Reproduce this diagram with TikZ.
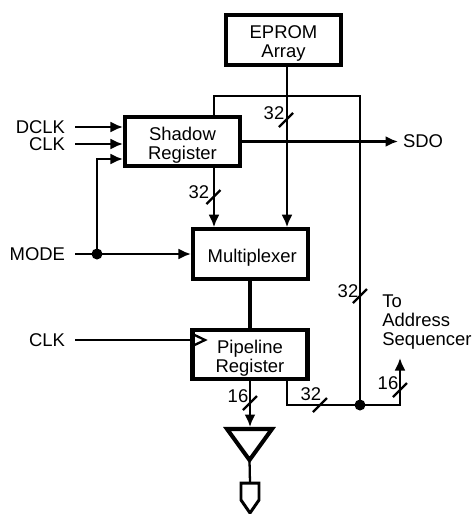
\documentclass[tikz,border=0pt]{standalone}
\usepackage{fontspec}
\setmainfont{Liberation Sans}
\usetikzlibrary{arrows.meta}
\tikzset{
  regbox/.style={draw,line width=2.3pt,minimum width=2.3cm,minimum height=0.99cm,inner sep=0pt,align=center},
  sig/.style={line width=1.3pt},
  bigsig/.style={line width=2.3pt},
  pinlabel/.style={inner xsep=0.2cm,inner ysep=0pt,outer sep=0pt},
  buslabel/.style={inner sep=0pt,outer sep=0pt},
  joint/.style={circle,fill=black,inner sep=0pt,minimum size=0.22cm}
}
% trait oblique de bus + largeur
\newcommand{\busmark}[4]{%
  \draw[sig] ([shift={(-7,7)}]#1) -- ([shift={(7,-7)}]#1);
  \node[buslabel] (#2) at (#3) {#4};
}
% descend le texte dans les blocs
\newcommand{\boxtop}{\rule{0pt}{11.5pt}}
\begin{document}
\begin{tikzpicture}[x=0.02cm,y=-0.02cm,>={Latex[length=2.5mm,width=2.2mm]},
    every node/.append style={font=\fontsize{10.5}{11}\selectfont}]
  \useasboundingbox (0,0) rectangle (474,514);

  % blocs
  \node[regbox] (eprom) at (283.5,40) {\boxtop EPROM\hspace{3.4pt}\\Array\hspace{3.4pt}};
  \node[regbox] (shadow) at (182.5,141.5) {\boxtop Shadow\\Register};
  \node[regbox] (mux) at (250.5,254) {\hspace{2pt}\boxtop Multiplexer};
  \node[regbox] (pipe) at (250,354.5) {\boxtop Pipeline\\Register};

  % entrees
  \node[pinlabel,anchor=east] (dclk) at (75,127) {DCLK};
  \node[pinlabel,anchor=east] (clka) at (75,144) {CLK};
  \node[pinlabel,anchor=east] (mode) at (75,254) {MODE};
  \node[pinlabel,anchor=east] (clkb) at (75,340) {CLK};
  \node[inner xsep=0.1cm,inner ysep=0pt,outer sep=0pt,anchor=west] (sdo) at (398,141.5) {SDO};
  \node[anchor=north west,inner sep=0pt,align=left] (addr) at (382,294) {To\\Address\\Sequencer};

  % points de repere
  \node[joint] (mj) at (97,254) {};
  \node[joint] (oj) at (360,405) {};
  \coordinate (shclk) at (110,159);
  \coordinate (epromout) at (287,67);
  \coordinate (shtop) at (214,96);
  \coordinate (pipeout) at (287,382);
  \coordinate (addrtip) at (400,358);
  \coordinate (bufL) at (227,429);
  \coordinate (bufR) at (272,429);
  \coordinate (bufA) at (249.5,460);
  \coordinate (buftop) at (250,427);
  \coordinate (plugtop) at (250,483);

  % liaisons
  \draw[sig,->] (dclk.east) -- (dclk.east -| shadow.west);
  \draw[sig,->] (clka.east) -- (clka.east -| shadow.west);
  \draw[sig,->] (mj.center) |- (shclk -| shadow.west);
  \draw[sig,->] (mode.east) -- (mux.west);
  \draw[sig] (clkb.east) -- (clkb.east -| pipe.west);
  \draw[sig,->] (shadow.east) -- (sdo.west);
  \draw[sig,->] (epromout |- eprom.south) -- (epromout |- mux.north);
  \draw[sig,->] (shtop |- shadow.south) -- (shtop |- mux.north);
  \draw[sig] (shtop |- shadow.north) -- (shtop) -| (oj.center);
  \draw[bigsig] (mux.south -| pipe.north) -- (pipe.north);
  \draw[sig] (pipeout |- pipe.south) |- (oj.center);
  \draw[sig,->] (oj.center) -| (addrtip);
  \draw[sig,->] (pipe.south) -- (buftop);
  \draw[sig] (bufA) -- (plugtop);

  % horloge du registre
  \draw[sig] (pipe.west |- 0,333) -- (205,340) -- (pipe.west |- 0,347);

  % tampon de sortie
  \draw[bigsig,line join=miter] (bufL) -- (bufR) -- (bufA) -- cycle;
  \draw[line width=1.7pt] (plugtop) ++(-9,0) -- ++(18,0) -- ++(0,17) -- (250,513) -- (241,500) -- cycle;

  % largeurs de bus
  \busmark{286,120}{busa}{274,113}{32}
  \busmark{213.5,197}{busb}{199,192}{32}
  \busmark{360,296}{busc}{348,291}{32}
  \busmark{400,390}{busd}{388,383}{16}
  \busmark{320,405}{buse}{311,394}{32}
  \busmark{250,403}{busf}{238,396}{16}
\end{tikzpicture}
\end{document}
